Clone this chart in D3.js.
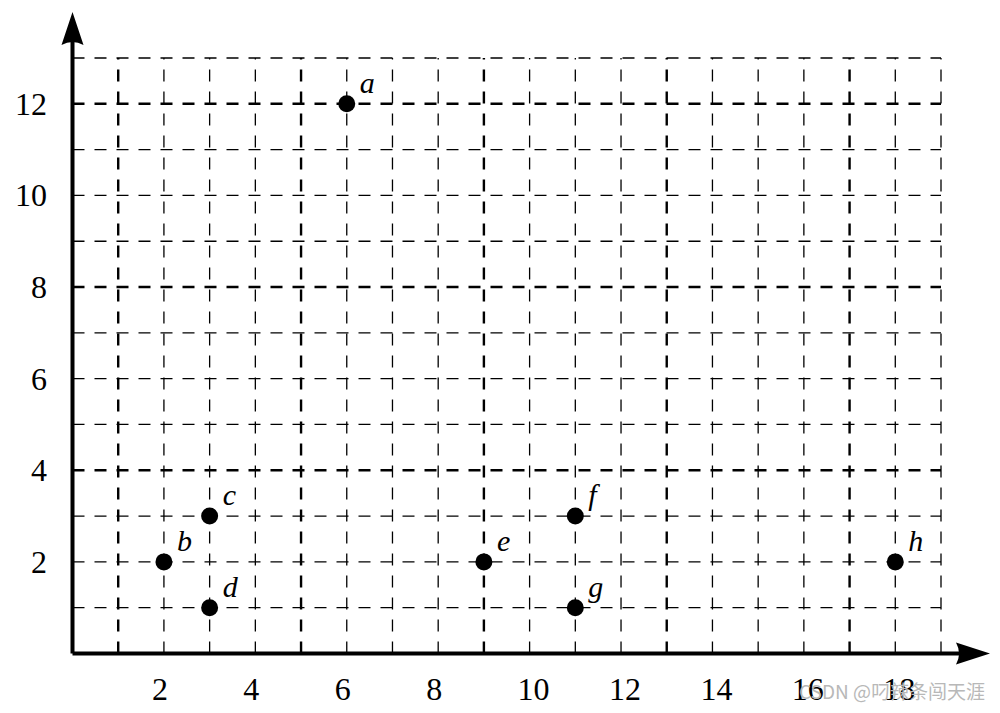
<!DOCTYPE html>
<html><head><meta charset="utf-8">
<script src="https://cdn.jsdelivr.net/npm/d3@7"></script>
<style>body{margin:0;background:#fff}</style>
</head><body>
<svg id="c" width="1000" height="713"></svg>
<script>
const pointLabels = ["a","b","c","d","e","f","g","h"];
const pointX = [6, 2, 3, 3, 9, 11, 11, 18];
const pointY = [12, 2, 3, 1, 2, 3, 1, 2];
const xTicks = [2,4,6,8,10,12,14,16,18];
const yTicks = [2,4,6,8,10,12];
const gridX = d3.range(1, 20);
const gridY = d3.range(1, 14);
const thickX = [1,5,9,13,17];
const thickY = [4,8,12];

const svg = d3.select("#c");
const x = d3.scaleLinear().domain([0, 19]).range([72.5, 941]);
const y = d3.scaleLinear().domain([0, 13]).range([653.5, 58]);

const g = svg.append("g");
// grid
g.selectAll(".vx").data(gridX).enter().append("line")
  .attr("x1", d => x(d)).attr("x2", d => x(d))
  .attr("y1", y(0)).attr("y2", y(13))
  .attr("stroke", "#000")
  .attr("stroke-width", d => thickX.includes(d) ? 2.4 : 1.3)
  .attr("stroke-dasharray", "12,10");
g.selectAll(".hy").data(gridY).enter().append("line")
  .attr("x1", x(0)).attr("x2", x(19))
  .attr("y1", d => y(d)).attr("y2", d => y(d))
  .attr("stroke", "#000")
  .attr("stroke-width", d => thickY.includes(d) ? 2.4 : 1.3)
  .attr("stroke-dasharray", "12,10");

// axes
g.append("line").attr("x1", x(0)).attr("x2", 960).attr("y1", y(0)).attr("y2", y(0))
  .attr("stroke", "#000").attr("stroke-width", 4);
g.append("line").attr("x1", x(0)).attr("x2", x(0)).attr("y1", y(0)).attr("y2", 40)
  .attr("stroke", "#000").attr("stroke-width", 4);
g.append("path").attr("d", `M990,${y(0)} L956,${y(0)-11} Q962,${y(0)} 956,${y(0)+11} Z`).attr("fill", "#000");
g.append("path").attr("d", `M${x(0)},12 L${x(0)-11},45 Q${x(0)},39 ${x(0)+11},45 Z`).attr("fill", "#000");

// tick labels
const font = "'Liberation Serif','Times New Roman',serif";
g.selectAll(".xl").data(xTicks).enter().append("text")
  .attr("x", d => x(d) - 12).attr("y", 700)
  .attr("font-family", font).attr("font-size", 32)
  .text(d => d);
g.selectAll(".yl").data(yTicks).enter().append("text")
  .attr("x", 47).attr("y", d => y(d) + 11)
  .attr("text-anchor", "end")
  .attr("font-family", font).attr("font-size", 32)
  .text(d => d);

// points
const pts = pointLabels.map((l, i) => ({l, x: pointX[i], y: pointY[i]}));
g.selectAll(".pt").data(pts).enter().append("circle")
  .attr("cx", d => x(d.x)).attr("cy", d => y(d.y)).attr("r", 8.5).attr("fill", "#000");
g.selectAll(".pl").data(pts).enter().append("text")
  .attr("x", d => x(d.x) + 13).attr("y", d => y(d.y) - 11)
  .attr("font-family", font).attr("font-style", "italic").attr("font-size", 30)
  .text(d => d.l);

// watermark
svg.append("text").attr("x", 985).attr("y", 699).attr("text-anchor", "end")
  .attr("font-family", "'Noto Sans CJK SC','Noto Sans',sans-serif").attr("font-size", 19)
  .attr("fill", "#b8b8b8").text("CSDN @叼辣条闯天涯");
</script>
</body></html>
